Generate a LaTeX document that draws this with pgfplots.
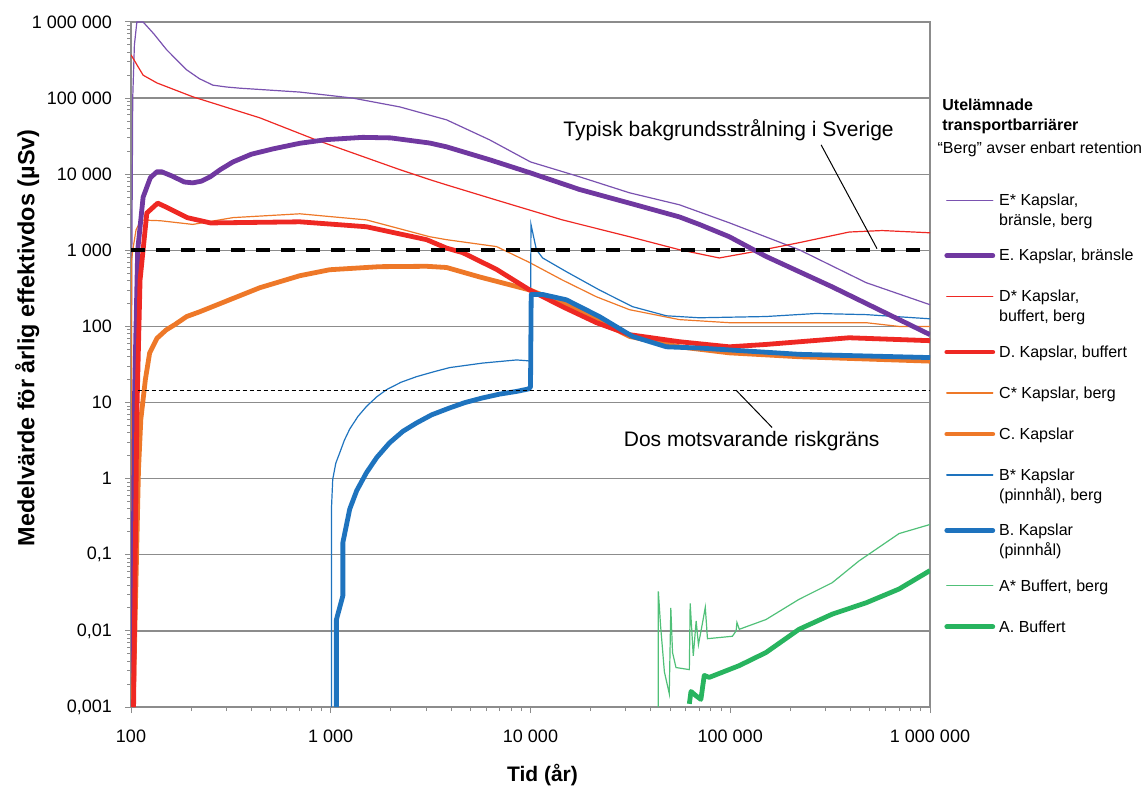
\documentclass[border=0pt]{standalone}
\usepackage{fontspec}
\setmainfont{Liberation Sans}
\usepackage{pgfplots}
\pgfplotsset{compat=1.18}
\definecolor{cpur}{RGB}{112,56,160}
\definecolor{cpurt}{RGB}{122,82,176}
\definecolor{cred}{RGB}{238,40,35}
\definecolor{cora}{RGB}{238,120,40}
\definecolor{cblu}{RGB}{30,115,190}
\definecolor{cgrn}{RGB}{40,180,95}
\definecolor{cgrnt}{RGB}{80,192,120}
\definecolor{cgrid}{RGB}{140,140,140}
\newcommand\one[1]{\begin{tabular}[t]{@{}l@{}}#1\end{tabular}}
\newcommand\two[2]{\begin{tabular}[t]{@{}l@{}}#1\\#2\end{tabular}}
\pgfplotsset{
  deepE/.style={legend image code/.code={\draw[cpurt, line width=0.6pt, line cap=round] (0pt,2.6pt) -- (23pt,2.6pt); \path (0pt,-10.5pt);}},
  deepD/.style={legend image code/.code={\draw[cred, line width=0.6pt, line cap=round] (0pt,2.6pt) -- (23pt,2.6pt); \path (0pt,-10.5pt);}},
  deepBt/.style={legend image code/.code={\draw[cblu, line width=0.6pt, line cap=round] (0pt,2.6pt) -- (23pt,2.6pt); \path (0pt,-10.5pt);}},
  deepB/.style={legend image code/.code={\draw[cblu, line width=2.4pt, line cap=round] (0pt,2.6pt) -- (23pt,2.6pt); \path (0pt,-10.5pt);}},
}
\begin{document}
\begin{tikzpicture}
\path[use as bounding box] (-65.5pt,-42pt) rectangle (506.5pt,353.5pt);
\begin{axis}[
  at={(0,0)}, anchor=south west,
  scale only axis, width=399.5pt, height=342.5pt,
  xmode=log, ymode=log,
  xmin=100, xmax=1000000, ymin=0.001, ymax=1000000,
  axis line style={cgrid, line width=0.8pt},
  ymajorgrids, major grid style={cgrid, line width=0.7pt},
  tick pos=left, tick align=outside,
  major tick length=3pt, minor tick length=2pt,
  every tick/.style={cgrid, line width=0.5pt},
  xtick={100,1000,10000,100000,1000000},
  xticklabels={100,1 000,10 000,100 000,1 000 000},
  ytick={0.001,0.01,0.1,1,10,100,1000,10000,100000,1000000},
  yticklabels={{0,001},{0,01},{0,1},1,10,100,1 000,10 000,100 000,1 000 000},
  /pgf/number format/assume math mode=true,
  xticklabel style={font=\fontsize{9}{10}\selectfont, yshift=-5pt},
  yticklabel style={font=\fontsize{9}{10}\selectfont, xshift=-3pt},
  xlabel={\bfseries Tid (år)},
  xlabel style={font=\fontsize{10.5}{13}\selectfont, at={(axis description cs:0.515,-0.099)}, anchor=center},
  ylabel={\bfseries Medelvärde för årlig effektivdos (µSv)},
  ylabel style={font=\fontsize{11.7}{13}\selectfont, at={(axis description cs:-0.130,0.539)}, anchor=center},
  legend image code/.code={\draw[#1, line cap=round] (0pt,2.6pt) -- (23pt,2.6pt);},
  legend style={draw=none, fill=none, inner sep=0pt, at={(axis description cs:1.0175,0.759)}, anchor=north west,
    font=\fontsize{8}{10}\selectfont, row sep=8pt, cells={anchor=base west}},
  clip mode=individual,
]
% legend
\addlegendimage{deepE}\addlegendentry{\two{E* Kapslar,}{bränsle, berg}}
\addlegendimage{cpur, line width=2.4pt}\addlegendentry{\one{E. Kapslar, bränsle}}
\addlegendimage{deepD}\addlegendentry{\two{D* Kapslar,}{buffert, berg}}
\addlegendimage{cred, line width=2.4pt}\addlegendentry{\one{D. Kapslar, buffert}}
\addlegendimage{cora, line width=0.6pt}\addlegendentry{\one{C* Kapslar, berg}}
\addlegendimage{cora, line width=2.4pt}\addlegendentry{\one{C. Kapslar}}
\addlegendimage{deepBt}\addlegendentry{\two{B* Kapslar}{(pinnhål), berg}}
\addlegendimage{deepB}\addlegendentry{\two{B. Kapslar}{(pinnhål)}}
\addlegendimage{cgrnt, line width=0.6pt}\addlegendentry{\one{A* Buffert, berg}}
\addlegendimage{cgrn, line width=2.4pt}\addlegendentry{\one{A. Buffert}}
% E* thin purple
\addplot[forget plot, cpurt, line width=0.6pt] coordinates {
(100,0.001) (100.3,10) (101,1000) (102,100000) (104,500000) (107,1000000) (115,1000000) (130,700000) (151,430000) (190,235000) (220,180000) (257,148000) (300,140000) (351,135000) (700,120000) (1000,108000) (1290,100000) (2213,76700) (3800,51800) (6240,28300) (10000,14500) (17600,9250) (31300,5700) (55600,3970) (98900,2300) (221000,1020) (479000,376) (1000000,193)};
% D* thin red
\addplot[forget plot, cred, line width=0.6pt] coordinates {
(100,370000) (115,200000) (135,158000) (204,104000) (442,55000) (851,28000) (2213,11500) (3126,8500) (3800,7240) (6760,4570) (14450,2510) (31300,1510) (55600,1020) (88100,794) (124000,933) (221000,1260) (394000,1740) (576000,1820) (1000000,1700)};
% C* thin orange
\addplot[forget plot, cora, line width=0.6pt] coordinates {
(100.5,0.001) (100.5,700) (102,1000) (106,1860) (112,2500) (140,2450) (204,2190) (324,2690) (700,3020) (1510,2510) (3126,1510) (3800,1380) (6760,1120) (9890,692) (14450,407) (21400,245) (31300,166) (55600,123) (98900,112) (479000,112) (700000,100) (1000000,100)};
% B* thin blue
\addplot[forget plot, cblu, line width=0.6pt] coordinates {
(1008,0.001) (1008,0.4) (1023,0.98) (1060,1.6) (1110,2.2) (1170,3.2) (1245,4.5) (1370,6.6) (1510,8.9) (1700,11.9) (1905,14.8) (2250,18.5) (2690,21.9) (3300,25.5) (3940,28.8) (5750,33) (8510,36.3) (9550,35.5) (10000,35) (10050,2200) (10700,1020) (11500,794) (15100,525) (22100,302) (32400,182) (47900,138) (70000,130) (151000,135) (269000,148) (479000,143) (1000000,126)};
% A* thin green
\addplot[forget plot, cgrnt, line width=0.6pt] coordinates {
(43650,0.001) (43650,0.033) (44800,0.0116) (46800,0.0029) (49500,0.0015) (50400,0.020) (51400,0.0052) (53500,0.0033) (62400,0.0031) (63000,0.023) (65300,0.0047) (67500,0.0135) (69300,0.0066) (72700,0.0129) (75000,0.0204) (76900,0.0079) (102500,0.0085) (107000,0.010) (108000,0.0129) (111000,0.0105) (151000,0.0141) (221000,0.026) (324000,0.043) (441000,0.083) (700000,0.19) (1000000,0.25)};
% E thick purple
\addplot[forget plot, cpur, line width=2.4pt, line join=round] coordinates {
(101.5,0.001) (104,10) (108,1000) (115,5000) (125,9000) (135,10800) (142,10800) (160,9500) (185,7900) (204,7700) (225,8100) (250,9300) (280,11500) (324,14500) (400,18300) (513,21500) (700,25500) (955,28500) (1445,30500) (2000,30000) (3126,25700) (3800,22900) (6240,15500) (9890,10500) (17600,6300) (31300,4170) (55600,2750) (70000,2190) (98900,1510) (151000,832) (324000,331) (1000000,78)};
% C thick orange
\addplot[forget plot, cora, line width=2.4pt, line join=round] coordinates {
(102.5,0.001) (109,1.3) (112,6) (118,20) (124,45) (135,70) (150,90) (166,106) (190,135) (221,156) (313,225) (442,323) (700,464) (989,556) (1758,610) (3020,617) (3800,595) (5560,447) (9890,302) (14450,204) (21400,123) (31300,74) (55600,54) (98900,45) (221000,40) (1000000,35)};
% D thick red
\addplot[forget plot, cred, line width=2.4pt, line join=round] coordinates {
(103,0.001) (107,7.4) (111,407) (120,3090) (136,4170) (150,3700) (191,2690) (250,2290) (700,2370) (1510,2040) (3020,1380) (3800,1070) (4570,933) (6760,562) (9890,302) (14450,182) (21400,112) (31300,78) (55600,63) (98900,54) (151000,58) (394000,71) (1000000,65)};
% B thick blue
\addplot[forget plot, cblu, line width=2.4pt, line join=round] coordinates {
(1067,0.001) (1067,0.014) (1150,0.029) (1150,0.145) (1200,0.25) (1245,0.4) (1350,0.7) (1510,1.2) (1700,1.9) (1970,2.96) (2300,4.2) (2690,5.4) (3200,6.9) (3940,8.5) (4700,10) (5750,11.5) (7000,12.9) (8510,14.0) (9770,15.1) (10000,16) (10080,263) (11500,263) (15100,224) (22100,135) (32400,74) (47900,54) (70000,52) (222000,43) (1000000,39)};
% A thick green
\addplot[forget plot, cgrn, line width=2.4pt, line join=round] coordinates {
(62400,0.0011) (63600,0.0016) (67500,0.0014) (71300,0.00126) (74100,0.0026) (78500,0.00245) (111000,0.0035) (151000,0.0052) (221000,0.0105) (324000,0.0166) (479000,0.0234) (700000,0.0355) (1000000,0.062)};
% reference lines
\addplot[forget plot, black, line width=2pt, dash pattern=on 7pt off 5.5pt] coordinates {(100,1000) (1000000,1000)};
\addplot[forget plot, black, line width=0.6pt, dash pattern=on 2pt off 1.5pt] coordinates {(108,14.5) (1000000,14.5)};
% annotations
\draw[black, line width=0.5pt] (axis cs:285000,24300) -- (axis cs:543000,1050);
\draw[black, line width=0.5pt] (axis cs:107000,14.5) -- (axis cs:162000,4.7);
\node[font=\fontsize{10.5}{12}\selectfont] at (axis cs:98000,38000) {Typisk bakgrundsstrålning i Sverige};
\node[font=\fontsize{10.5}{12}\selectfont] at (axis cs:128000,3.08) {Dos motsvarande riskgräns};
\node[font=\fontsize{8}{10}\selectfont\bfseries, anchor=west, inner sep=0pt] at (axis description cs:1.015,0.879) {Utelämnade};
\node[font=\fontsize{8}{10}\selectfont\bfseries, anchor=west, inner sep=0pt] at (axis description cs:1.015,0.848) {transportbarriärer};
\node[font=\fontsize{8}{10}\selectfont, anchor=west, inner sep=0pt] at (axis description cs:1.009,0.814) {“Berg” avser enbart retention};
\end{axis}
\end{tikzpicture}
\end{document}
